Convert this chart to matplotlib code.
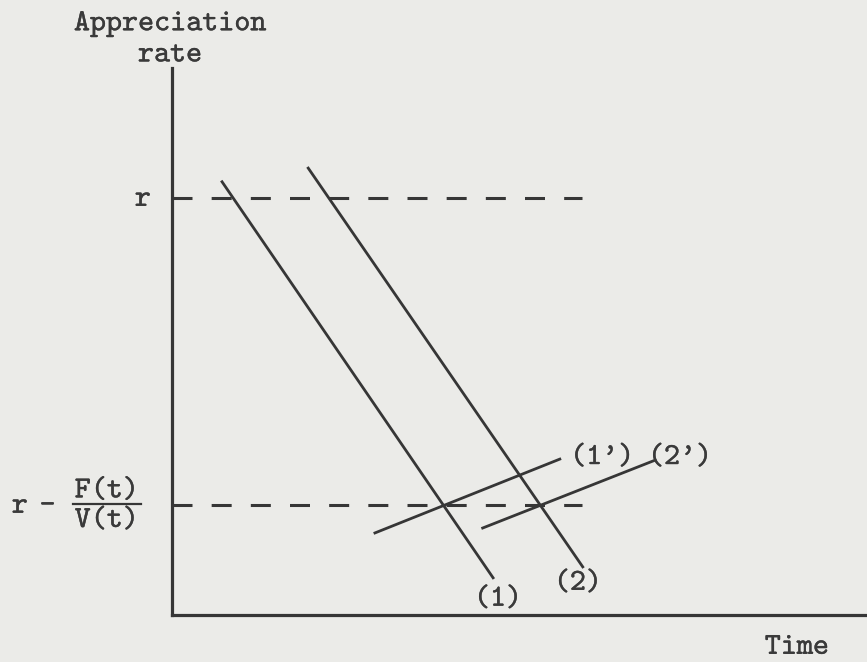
import matplotlib
matplotlib.use("Agg")
import matplotlib.pyplot as plt
import matplotlib.patheffects as pe

plt.rcParams['font.family'] = ['cmtt10', 'DejaVu Sans Mono']
plt.rcParams['lines.scale_dashes'] = False

ink = "#363636"
text_ink = "#3a3a3a"
paper = "#ebebe8"
fs = 22
thick = [pe.withStroke(linewidth=0.25, foreground=text_ink)]

# levels of the two horizontal reference lines
r_level = 7.62
low_level = 2.01
dash_x = [0.0, 5.9]

# downward lines (1) and (2)
line1_x = [0.72, 4.62]
line1_y = [7.92, 0.68]
line2_x = [1.96, 5.91]
line2_y = [8.17, 0.88]

# upward lines (1') and (2')
line1p_x = [2.92, 5.58]
line1p_y = [1.50, 2.85]
line2p_x = [4.47, 6.95]
line2p_y = [1.59, 2.83]

labels = ["(1)", "(2)", "(1')", "(2')"]
label_x = [4.69, 5.84, 6.19, 7.31]
label_y = [0.28, 0.57, 2.87, 2.87]

fig = plt.figure(figsize=(8.67, 6.62), dpi=100, facecolor=paper)
ax = fig.add_axes([172/867, 47/662, 695/867, 547/662])
ax.set_facecolor(paper)
ax.set_xlim(0, 10)
ax.set_ylim(0, 10)
for s in ["top", "right"]:
    ax.spines[s].set_visible(False)
for s in ["left", "bottom"]:
    ax.spines[s].set_linewidth(2.3)
    ax.spines[s].set_color(ink)
ax.set_xticks([])
ax.set_yticks([])

for lvl in [r_level, low_level]:
    ax.plot(dash_x, [lvl, lvl], color=ink, lw=2.2, dashes=(14.4, 13.8),
            solid_capstyle="butt", clip_on=False)

ax.plot(line1_x, line1_y, color=ink, lw=2.0)
ax.plot(line2_x, line2_y, color=ink, lw=2.0)
ax.plot(line1p_x, line1p_y, color=ink, lw=2.0)
ax.plot(line2p_x, line2p_y, color=ink, lw=2.0)

def label(x, y, s):
    ax.text(x, y, s, color=text_ink, fontsize=fs, ha="center", va="center",
            clip_on=False, path_effects=thick)

for t, x, y in zip(labels, label_x, label_y):
    label(x, y, t)

label(8.99, -0.60, "Time")
label(-0.03, 10.80, "Appreciation")
label(-0.03, 10.23, "rate")
label(-0.42, r_level - 0.03, "r")

# r - F(t)/V(t) label
label(-2.19, low_level - 0.03, "r")
label(-1.79, low_level - 0.03, "-")
label(-0.94, low_level + 0.25, "F(t)")
label(-0.94, low_level - 0.29, "V(t)")
ax.plot([-1.42, -0.44], [low_level + 0.02, low_level + 0.02], color=ink, lw=1.6, clip_on=False)

fig.savefig("out.png", dpi=100, facecolor=paper)
